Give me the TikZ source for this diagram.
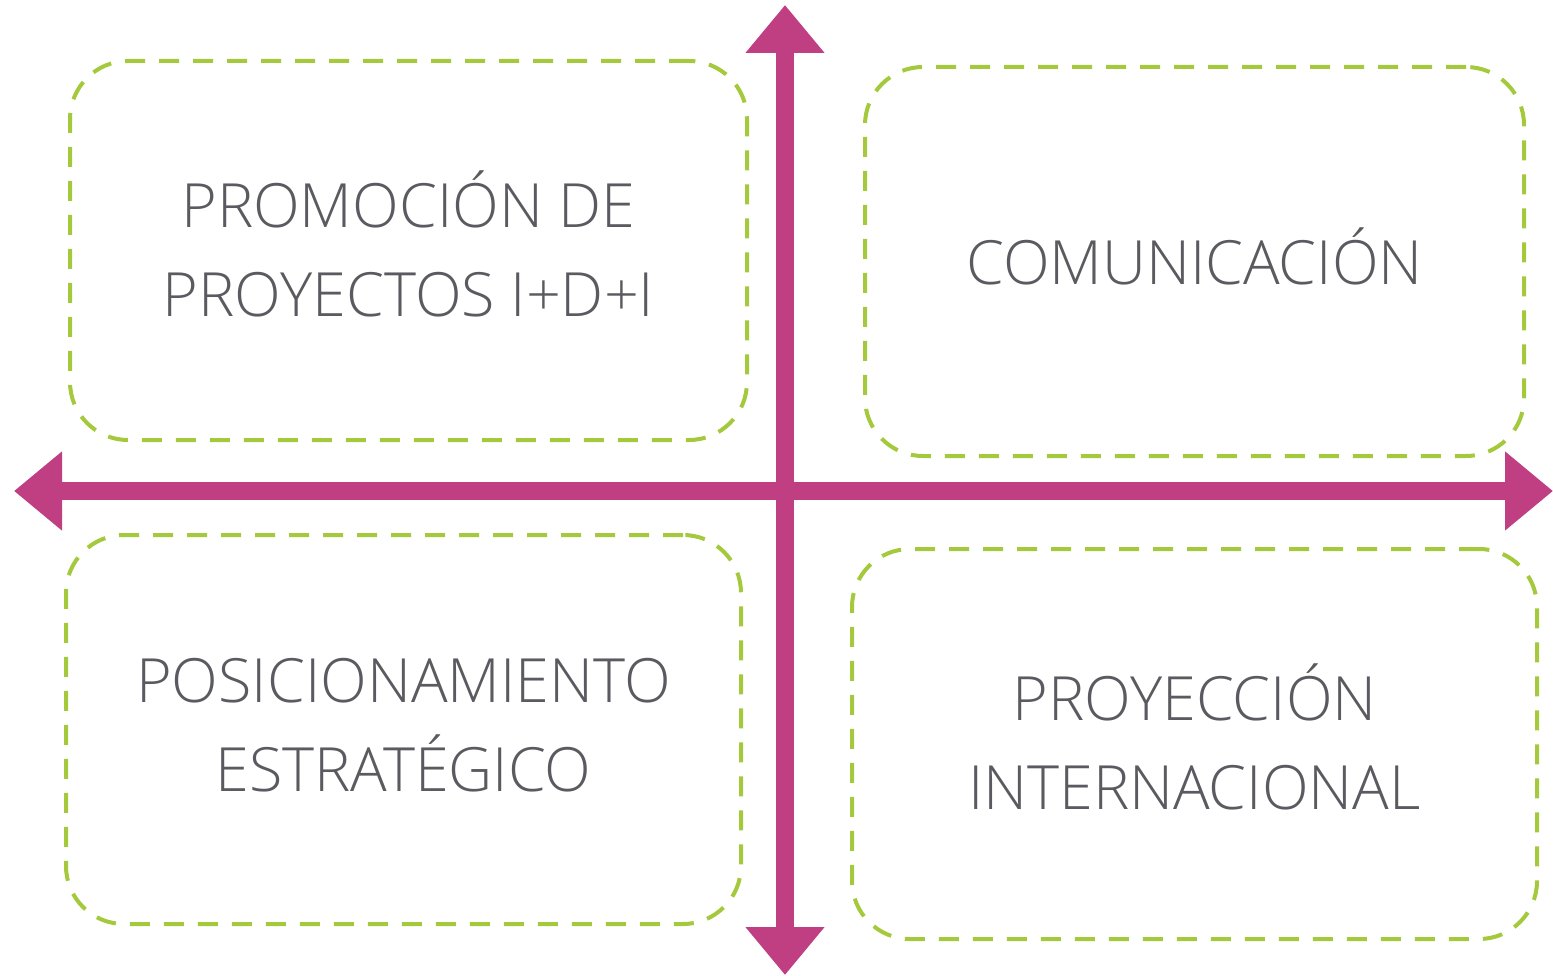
\documentclass[tikz,border=0pt]{standalone}
\usepackage{fontspec}
\setmainfont{Open Sans}[UprightFont=* Light]
\usetikzlibrary{arrows.meta}
\definecolor{axis}{RGB}{192,62,130}
\definecolor{dashgreen}{RGB}{165,201,61}
\definecolor{txt}{RGB}{90,90,96}
\tikzset{
  quad/.style={draw=dashgreen, line width=4pt, dash pattern=on 20pt off 14pt, rounded corners=58pt, inner sep=0pt},
  lbl/.style={text=txt, align=center, font=\fontsize{61}{89}\selectfont, inner sep=0pt},
  axisline/.style={draw=axis, line width=18pt, {Triangle[length=48pt,width=76pt]}-{Triangle[length=48pt,width=76pt]}}
}
\begin{document}
\begin{tikzpicture}[x=1pt,y=-1pt]
\useasboundingbox (0,0) rectangle (1553,976);
\node[quad, minimum width=677pt, minimum height=379pt] (tl) at (408.5,250.5) {};
\node[quad, minimum width=659pt, minimum height=389pt] (tr) at (1194.5,261.5) {};
\node[quad, minimum width=675pt, minimum height=389pt] (bl) at (403.5,729.5) {};
\node[quad, minimum width=685pt, minimum height=390pt] (br) at (1194.5,744) {};
\node[lbl] (tlt) at ([yshift=7pt]tl.center) {PROMOCIÓN DE\\PROYECTOS I+D+I};
\node[lbl] (trt) at ([yshift=5pt]tr.center) {COMUNICACIÓN};
\node[lbl] (blt) at ([yshift=4pt]bl.center) {POSICIONAMIENTO\\ESTRATÉGICO};
\node[lbl] (brt) at ([yshift=7pt]br.center) {PROYECCIÓN\\INTERNACIONAL};
\coordinate (top) at (785,5);
\coordinate (bot) at (785,975);
\coordinate (left) at (14,491);
\coordinate (right) at (1553,491);
\draw[axisline] (left) -- (right);
\draw[axisline] (top) -- (bot);
\end{tikzpicture}
\end{document}
